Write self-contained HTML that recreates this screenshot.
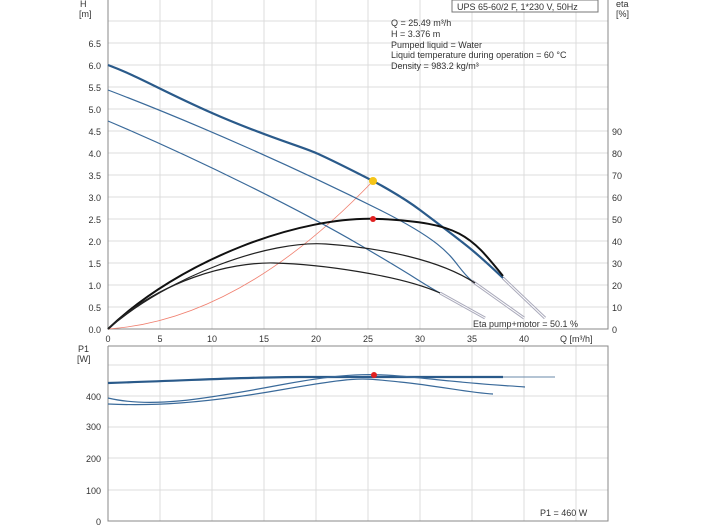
<!DOCTYPE html>
<html><head><style>body{margin:0;background:#fff}svg{display:block}text{font-family:"Liberation Sans",sans-serif;font-size:9px;fill:#333}</style></head><body>
<svg width="704" height="528" viewBox="0 0 704 528" xmlns="http://www.w3.org/2000/svg">
<g stroke="#dcdcdc" stroke-width="1">
<path d="M108 329H608M108 307H608M108 285H608M108 263H608M108 241H608M108 219H608M108 197H608M108 175H608M108 153H608M108 131H608M108 109H608M108 87H608M108 65H608M108 43H608M108 21H608"/>
<path d="M160 0V329M212 0V329M264 0V329M316 0V329M368 0V329M420 0V329M472 0V329M524 0V329M576 0V329"/>
<path d="M108 490H608M108 458H608M108 427H608M108 396H608M108 365H608"/>
<path d="M160 346V521M212 346V521M264 346V521M316 346V521M368 346V521M420 346V521M472 346V521M524 346V521M576 346V521"/>
</g>
<g stroke="#888" fill="none" stroke-width="1">
<path d="M108 0V329H608V0"/><path d="M108 346V521H608V346H108"/>
</g>
<g fill="none" stroke-linejoin="round">
<path d="M503 278L545 318M472 281L524 318M440 293L485 318" stroke="#aab" stroke-width="3"/>
<path d="M503 278L545 318M472 281L524 318M440 293L485 318" stroke="#fff" stroke-width="1"/>
<path d="M108 329Q240 320 373 181" stroke="#f08070" stroke-width="0.8"/>
<path d="M108 65C140 77 160 90 212 113S300 146 316 153 373 181 373 181 400 195 420 210 460 240 472 250 503 278 503 278" stroke="#2a5a8a" stroke-width="2.2"/>
<path d="M108 90C200 125 300 170 380 210S450 262 472 281" stroke="#3a6a9a" stroke-width="1.2"/>
<path d="M108 121C200 160 300 210 360 245S420 282 440 293" stroke="#3a6a9a" stroke-width="1.2"/>
<path d="M108 329C180 260 300 215 380 219S470 235 503 276" stroke="#111" stroke-width="2"/>
<path d="M108 329C170 275 270 240 326 244S440 260 475 283" stroke="#222" stroke-width="1.2"/>
<path d="M108 329C160 280 230 262 274 263S400 275 440 293" stroke="#222" stroke-width="1.2"/>
<path d="M503 377H555" stroke="#6a8aaa" stroke-width="1"/>
<path d="M108 383C200 380 250 377 300 377H503" stroke="#2a5a8a" stroke-width="2.2"/>
<path d="M108 398C150 408 200 400 280 385S380 374 440 380 500 385 525 387" stroke="#3a6a9a" stroke-width="1.2"/>
<path d="M108 404C150 406 200 404 280 390S360 378 400 382 470 393 493 394" stroke="#3a6a9a" stroke-width="1.2"/>
</g>
<circle cx="373" cy="181" r="4" fill="#f5c518"/>
<circle cx="373" cy="219" r="3" fill="#e02020"/>
<circle cx="374" cy="375" r="3" fill="#e02020"/>
<g text-anchor="end">
<text x="101" y="47">6.5</text><text x="101" y="69">6.0</text><text x="101" y="91">5.5</text><text x="101" y="113">5.0</text><text x="101" y="135">4.5</text><text x="101" y="157">4.0</text><text x="101" y="179">3.5</text><text x="101" y="201">3.0</text><text x="101" y="223">2.5</text><text x="101" y="245">2.0</text><text x="101" y="267">1.5</text><text x="101" y="289">1.0</text><text x="101" y="311">0.5</text><text x="101" y="333">0.0</text>
<text x="101" y="400">400</text><text x="101" y="430">300</text><text x="101" y="462">200</text><text x="101" y="494">100</text><text x="101" y="525">0</text>
</g>
<g>
<text x="612" y="135">90</text><text x="612" y="157">80</text><text x="612" y="179">70</text><text x="612" y="201">60</text><text x="612" y="223">50</text><text x="612" y="245">40</text><text x="612" y="267">30</text><text x="612" y="289">20</text><text x="612" y="311">10</text><text x="612" y="333">0</text>
<text x="616" y="7">eta</text><text x="616" y="17">[%]</text>
<text x="80" y="7">H</text><text x="79" y="17">[m]</text>
<text x="78" y="352">P1</text><text x="77" y="362">[W]</text>
</g>
<g text-anchor="middle">
<text x="108" y="342">0</text><text x="160" y="342">5</text><text x="212" y="342">10</text><text x="264" y="342">15</text><text x="316" y="342">20</text><text x="368" y="342">25</text><text x="420" y="342">30</text><text x="472" y="342">35</text><text x="524" y="342">40</text>
</g>
<text x="560" y="342">Q [m³/h]</text>
<rect x="452" y="0" width="146" height="12" fill="#fff" stroke="#777"/>
<text x="457" y="10">UPS 65-60/2 F, 1*230 V, 50Hz</text>
<text x="391" y="26">Q = 25.49 m³/h</text>
<text x="391" y="37">H = 3.376 m</text>
<text x="391" y="48">Pumped liquid = Water</text>
<text x="391" y="58">Liquid temperature during operation = 60 °C</text>
<text x="391" y="69">Density = 983.2 kg/m³</text>
<text x="473" y="327">Eta pump+motor = 50.1 %</text>
<text x="540" y="516">P1 = 460 W</text>
</svg>
</body></html>
